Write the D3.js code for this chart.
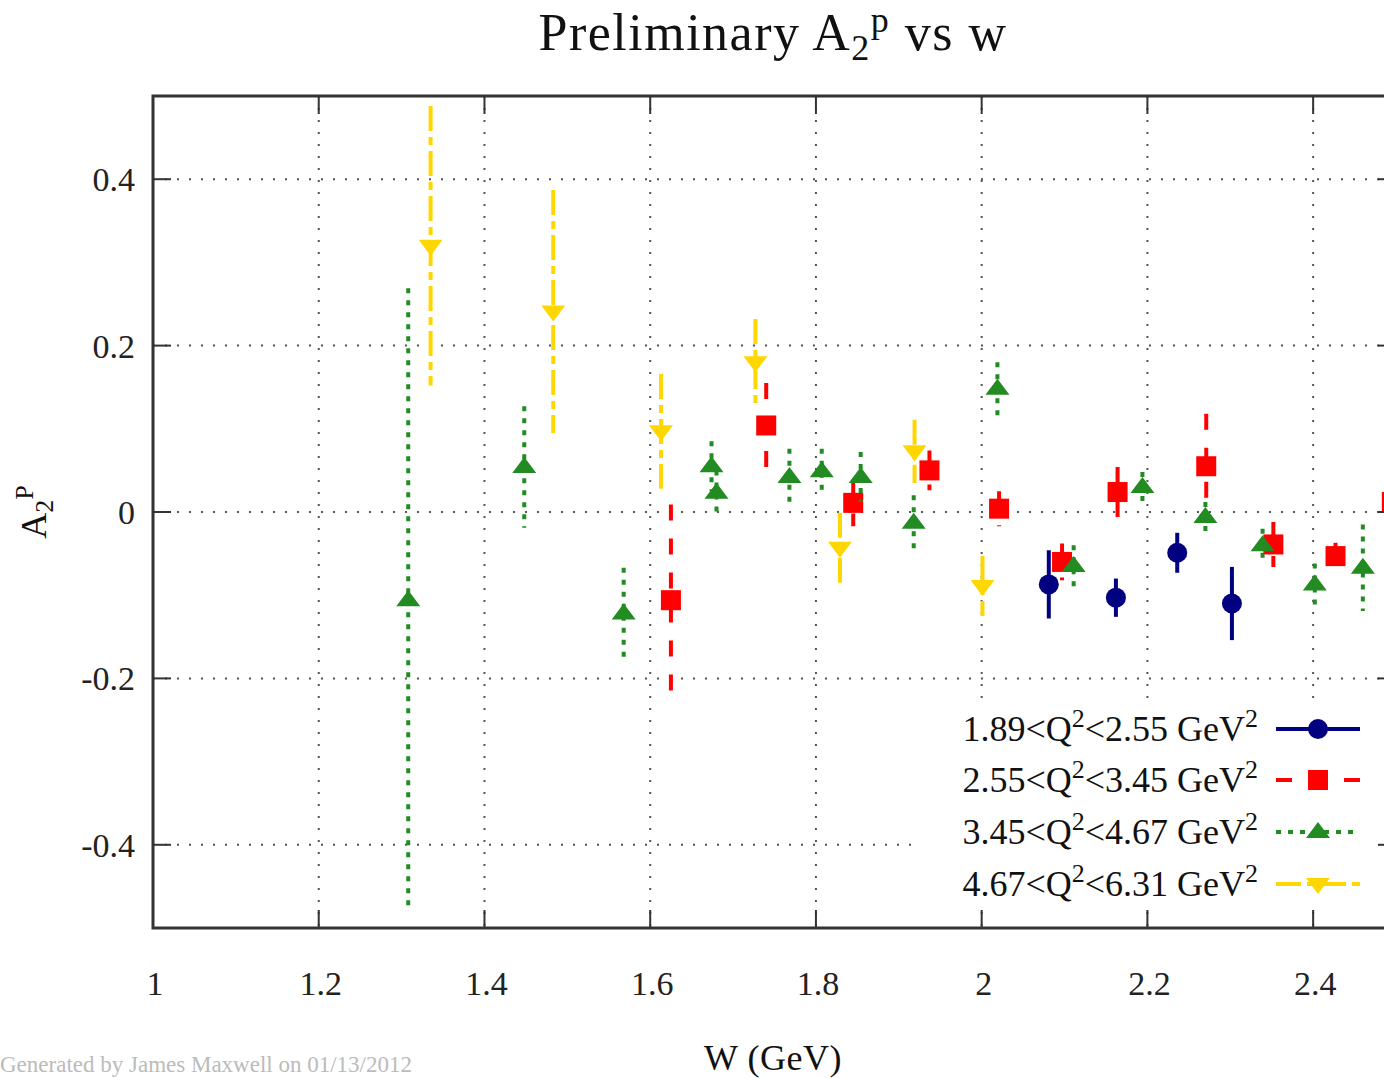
<!DOCTYPE html>
<html>
<head>
<meta charset="utf-8">
<script src="https://cdn.jsdelivr.net/npm/d3@7"></script>
<style>
  html, body { margin: 0; padding: 0; background: #fff; overflow: hidden; }
  svg { display: block; font-family: "Liberation Serif", "DejaVu Serif", serif; }
</style>
</head>
<body>
<div id="chart"></div>
<script>
// values
const xTicks = [1, 1.2, 1.4, 1.6, 1.8, 2, 2.2, 2.4];
const yTicks = [-0.4, -0.2, 0, 0.2, 0.4];
const xTickLabels = ["1", "1.2", "1.4", "1.6", "1.8", "2", "2.2", "2.4"];
const yTickLabels = ["-0.4", "-0.2", "0", "0.2", "0.4"];

const seriesNames = [
  ["1.89", "2.55"],
  ["2.55", "3.45"],
  ["3.45", "4.67"],
  ["4.67", "6.31"],
];

const blueW = [2.081, 2.162, 2.236, 2.302];
const blueA = [-0.087, -0.103, -0.049, -0.110];
const blueE = [0.041, 0.023, 0.024, 0.044];

const redW = [1.625, 1.740, 1.845, 1.937, 2.021, 2.097, 2.164, 2.271, 2.352, 2.427, 2.495];
const redA = [-0.106, 0.104, 0.011, 0.050, 0.004, -0.060, 0.024, 0.055, -0.039, -0.053, 0.012];
const redE = [0.115, 0.051, 0.028, 0.024, 0.021, 0.022, 0.030, 0.063, 0.027, 0.016, 0.020];

const greenW = [1.308, 1.448, 1.568, 1.674, 1.680, 1.768, 1.807, 1.854, 1.918, 2.019, 2.111, 2.194, 2.270, 2.339, 2.402, 2.460];
const greenA = [-0.106, 0.054, -0.122, 0.055, 0.023, 0.042, 0.049, 0.042, -0.013, 0.148, -0.065, 0.030, -0.006, -0.040, -0.087, -0.067];
const greenE = [0.375, 0.073, 0.055, 0.030, 0.027, 0.034, 0.027, 0.030, 0.033, 0.032, 0.025, 0.018, 0.018, 0.020, 0.025, 0.052];

const yellowW = [1.335, 1.483, 1.613, 1.727, 1.829, 1.919, 2.001];
const yellowA = [0.320, 0.241, 0.097, 0.180, -0.043, 0.073, -0.089];
const yellowE = [0.168, 0.146, 0.069, 0.052, 0.042, 0.038, 0.036];

const W = 1384, H = 1078;
const margin = { left: 153, top: 96, right: 1396, bottom: 928 };

const styles = [
  { color: "#000080", dash: null, shape: "circle" },
  { color: "#ff0000", dash: "16,18", shape: "square" },
  { color: "#228b22", dash: "5,7", shape: "up" },
  { color: "#ffd700", dash: "25,6,8,6", shape: "down" },
];

const zip = (w, a, e) => w.map((d, i) => ({ w: d, a: a[i], e: e[i] }));
const series = [
  zip(blueW, blueA, blueE),
  zip(redW, redA, redE),
  zip(greenW, greenA, greenE),
  zip(yellowW, yellowA, yellowE),
];

const svg = d3.select("#chart").append("svg")
  .attr("width", W).attr("height", H);

const x = d3.scaleLinear().domain([1, 2.5]).range([margin.left, margin.right]);
const y = d3.scaleLinear().domain([-0.5, 0.5]).range([margin.bottom, margin.top]);

// dotted grid
const grid = svg.append("g")
  .attr("stroke", "#555").attr("stroke-width", 2).attr("stroke-dasharray", "2,10");
grid.selectAll(".gx").data(xTicks.filter(d => d > 1)).enter().append("line")
  .attr("x1", d => x(d)).attr("x2", d => x(d))
  .attr("y1", margin.top).attr("y2", margin.bottom);
grid.selectAll(".gy").data(yTicks).enter().append("line")
  .attr("y1", d => y(d)).attr("y2", d => y(d))
  .attr("x1", margin.left).attr("x2", margin.right);

// opaque legend box covers the grid
const legX = 918, legY = 703;
svg.append("rect")
  .attr("x", legX).attr("y", legY)
  .attr("width", margin.right - legX).attr("height", 910 - legY)
  .attr("fill", "#fff");

// marker drawing
function drawMarker(g, shape, cx, cy, color) {
  if (shape === "circle") {
    g.append("circle").attr("cx", cx).attr("cy", cy).attr("r", 10).attr("fill", color);
  } else if (shape === "square") {
    g.append("rect").attr("x", cx - 10).attr("y", cy - 10)
      .attr("width", 20).attr("height", 20).attr("fill", color);
  } else if (shape === "up") {
    g.append("path").attr("d", `M${cx},${cy - 10}L${cx - 12},${cy + 6}L${cx + 12},${cy + 6}Z`)
      .attr("fill", color);
  } else {
    g.append("path").attr("d", `M${cx},${cy + 10}L${cx - 12},${cy - 6}L${cx + 12},${cy - 6}Z`)
      .attr("fill", color);
  }
}

// error bars and points, series by series
series.forEach((data, i) => {
  const st = styles[i];
  const g = svg.append("g");
  g.selectAll("line").data(data).enter().append("line")
    .attr("x1", d => x(d.w)).attr("x2", d => x(d.w))
    .attr("y1", d => y(d.a + d.e)).attr("y2", d => y(d.a - d.e))
    .attr("stroke", st.color).attr("stroke-width", 4)
    .attr("stroke-dasharray", st.dash);
  data.forEach(d => drawMarker(g, st.shape, x(d.w), y(d.a), st.color));
});

// frame
svg.append("rect")
  .attr("x", margin.left).attr("y", margin.top)
  .attr("width", margin.right - margin.left).attr("height", margin.bottom - margin.top)
  .attr("fill", "none").attr("stroke", "#333").attr("stroke-width", 3);

// inward ticks on all four sides
const ticks = svg.append("g").attr("stroke", "#333").attr("stroke-width", 2);
xTicks.filter(d => d > 1).forEach(d => {
  ticks.append("line").attr("x1", x(d)).attr("x2", x(d)).attr("y1", margin.bottom).attr("y2", margin.bottom - 18);
  ticks.append("line").attr("x1", x(d)).attr("x2", x(d)).attr("y1", margin.top).attr("y2", margin.top + 18);
});
yTicks.forEach(d => {
  ticks.append("line").attr("y1", y(d)).attr("y2", y(d)).attr("x1", margin.left).attr("x2", margin.left + 18);
  ticks.append("line").attr("y1", y(d)).attr("y2", y(d)).attr("x1", margin.right).attr("x2", margin.right - 18);
});

// tick labels
svg.append("g").selectAll("text").data(xTicks).enter().append("text")
  .attr("x", d => x(d) + 2).attr("y", 995)
  .attr("text-anchor", "middle").attr("font-size", 34).attr("fill", "#222")
  .text((d, i) => xTickLabels[i]);
svg.append("g").selectAll("text").data(yTicks).enter().append("text")
  .attr("x", 135).attr("y", d => y(d) + 12)
  .attr("text-anchor", "end").attr("font-size", 34).attr("fill", "#222")
  .text((d, i) => yTickLabels[i]);

// title
const title = svg.append("text").attr("x", 773).attr("y", 50)
  .attr("text-anchor", "middle").attr("font-size", 52)
  .attr("letter-spacing", 1.5).attr("fill", "#111");
title.append("tspan").text("Preliminary A");
title.append("tspan").attr("font-size", 36).attr("dy", 10).text("2");
title.append("tspan").attr("font-size", 36).attr("dy", -28).text("p");
title.append("tspan").attr("dy", 18).text(" vs w");

// axis labels
svg.append("text").attr("x", 773).attr("y", 1070)
  .attr("text-anchor", "middle").attr("font-size", 36)
  .attr("letter-spacing", 0.5).attr("fill", "#111")
  .text("W (GeV)");
const ylab = svg.append("text")
  .attr("transform", "translate(46,512) rotate(-90)")
  .attr("text-anchor", "middle").attr("font-size", 36).attr("fill", "#111");
ylab.append("tspan").text("A");
ylab.append("tspan").attr("font-size", 26).attr("dy", 7).text("2");
ylab.append("tspan").attr("font-size", 26).attr("dy", -20).text("P");

// legend
const legRows = [729, 780, 832, 884];
seriesNames.forEach((nm, i) => {
  const st = styles[i];
  const ry = legRows[i];
  const t = svg.append("text").attr("x", 1258).attr("y", ry + 12)
    .attr("text-anchor", "end").attr("font-size", 36).attr("fill", "#111");
  t.append("tspan").text(nm[0] + "<Q");
  t.append("tspan").attr("font-size", 26).attr("dy", -14).text("2");
  t.append("tspan").attr("dy", 14).text("<" + nm[1] + " GeV");
  t.append("tspan").attr("font-size", 26).attr("dy", -14).text("2");
  svg.append("line").attr("x1", 1276).attr("x2", 1360).attr("y1", ry).attr("y2", ry)
    .attr("stroke", st.color).attr("stroke-width", 4).attr("stroke-dasharray", st.dash);
  drawMarker(svg.append("g"), st.shape, 1318, ry, st.color);
});

// footnote
svg.append("text").attr("x", 0).attr("y", 1072)
  .attr("font-size", 23).attr("fill", "#bbb")
  .text("Generated by James Maxwell on 01/13/2012");
</script>
</body>
</html>
